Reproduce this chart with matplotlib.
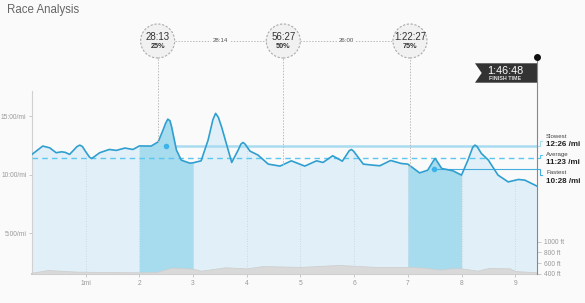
import numpy as np
import matplotlib
matplotlib.use("Agg")
from matplotlib import pyplot as plt
from matplotlib.patches import Ellipse, Polygon
import matplotlib.transforms as mtransforms
from matplotlib.ticker import FuncFormatter

plt.rcParams['font.family'] = ['Liberation Sans', 'DejaVu Sans']

# pace along the course: miles, minutes per mile
pace_miles = [0.0, 0.2, 0.33, 0.45, 0.55, 0.62, 0.7, 0.84, 0.89, 0.94, 0.98, 1.07, 1.11, 1.15, 1.26,
              1.44, 1.57, 1.73, 1.88, 2.0, 2.22, 2.35, 2.44, 2.49, 2.53, 2.57, 2.6, 2.69, 2.78, 2.94,
              3.0, 3.15, 3.28, 3.37, 3.42, 3.47, 3.53, 3.72, 3.84, 3.89, 3.93, 3.97, 4.06, 4.21, 4.4,
              4.62, 4.83, 5.08, 5.3, 5.42, 5.6, 5.78, 5.91, 5.95, 5.99, 6.17, 6.35, 6.48, 6.68, 6.88,
              7.0, 7.22, 7.37, 7.48, 7.51, 7.55, 7.63, 7.84, 8.0, 8.12, 8.21, 8.25, 8.29, 8.37, 8.5,
              8.68, 8.87, 9.06, 9.18, 9.406]
pace_min = [11.73, 12.44, 12.29, 11.87, 11.95, 11.9, 11.73, 12.4, 12.52, 12.4, 12.1, 11.5, 11.38, 11.5, 11.87,
            12.15, 12.07, 12.27, 12.15, 12.45, 12.44, 12.8, 13.8, 14.4, 14.74, 14.6, 14.09, 12.1, 11.24, 10.98,
            11.01, 11.18, 12.95, 14.7, 15.23, 14.9, 14.09, 11.04, 12.1, 12.6, 12.75, 12.6, 12.01, 11.67, 10.9,
            10.73, 11.18, 10.73, 11.18, 11.04, 11.61, 11.15, 12.05, 12.15, 12.0, 10.9, 10.81, 10.76, 11.21, 10.95,
            10.9, 10.15, 10.38, 11.2, 11.38, 11.1, 10.53, 10.33, 9.96, 11.24, 12.35, 12.52, 12.4, 11.81, 11.24,
            9.96, 9.38, 9.59, 9.53, 9.02]

# elevation profile: miles, feet
elev_miles = [0, 0.3, 0.85, 2.0, 2.3, 2.6, 3.0, 3.15, 3.6, 4.0, 4.3, 5.0, 5.7, 6.0, 6.4, 7.0, 7.3, 7.6,
              7.8, 8.0, 8.3, 8.5, 8.9, 9.0, 9.406]
elev_ft = [424, 474, 443, 431, 433, 517, 498, 461, 524, 505, 548, 531, 567, 554, 531, 531, 517, 480,
           505, 505, 461, 511, 505, 455, 431]

highlight_miles = [(2, 3), (7, 8)]
mile_ticks = [1, 2, 3, 4, 5, 6, 7, 8, 9]
mile_labels = ["1mi", "2", "3", "4", "5", "6", "7", "8", "9"]
pace_ticks = [5, 10, 15]
elev_ticks = [400, 600, 800, 1000]

split_names = ["Slowest", "Average", "Fastest"]
split_labels = ["12:26 /mi", "11:23 /mi", "10:28 /mi"]
split_pace = [12 + 26 / 60, 11 + 23 / 60, 10 + 28 / 60]
slowest_mile = 2.49
fastest_mile = 7.49

quarter_miles = [2.34, 4.68, 7.04]
quarter_times = ["28:13", "56:27", "1:22:27"]
quarter_pcts = ["25%", "50%", "75%"]
gap_times = ["28:14", "26:00"]

total_miles = 9.406
finish_time = "1:46:48"

W, H = 585, 303
PACE_LO, PACE_HI = 1.52, 17.14

fig = plt.figure(figsize=(W / 100, H / 100), dpi=100, facecolor='#fafafa')
ax = fig.add_axes([32 / W, 29 / H, 505 / W, 183 / H])
ax.set_facecolor('none')
ax.set_xlim(0, total_miles)
ax.set_ylim(PACE_LO, PACE_HI)

x = np.array(pace_miles)
y = np.array(pace_min)

ax.fill_between(x, PACE_LO, y, color='#e1f0f8', lw=0, zorder=1)
for a, b in highlight_miles:
    m = (x >= a) & (x <= b)
    ax.fill_between(x[m], PACE_LO, y[m], color='#a7dbee', lw=0, zorder=1.5)

for mt in mile_ticks:
    ax.plot([mt, mt], [PACE_LO, np.interp(mt, x, y)], color='#c3d3da', lw=0.6,
            ls=(0, (1, 2)), zorder=2)

ax.axhline(split_pace[1], color='#5cc6ee', lw=1, ls=(0, (4, 3)), zorder=3)
ax.plot([slowest_mile, total_miles], [split_pace[0]] * 2, color='#a9dcf0', lw=1.8, zorder=3)
ax.plot([fastest_mile, total_miles], [split_pace[2]] * 2, color='#46ade0', lw=0.8, zorder=3)
ax.plot(x, y, color='#2f9fd0', lw=1.2, zorder=4, solid_joinstyle='round')
ax.plot([slowest_mile, fastest_mile], [split_pace[0], split_pace[2]], 'o', color='#3cb4ea',
        ms=4, mec='none', zorder=5)

for s in ['top', 'right']:
    ax.spines[s].set_visible(False)
ax.spines['left'].set_color('#d0d0d0')
ax.spines['bottom'].set_color('#cccccc')
ax.spines['bottom'].set_linewidth(1.5)
ax.set_xticks(mile_ticks)
ax.set_xticklabels(mile_labels)
ax.set_yticks(pace_ticks)
ax.yaxis.set_major_formatter(FuncFormatter(lambda v, p: '%d:00/mi' % v))
ax.tick_params(axis='both', colors='#c0c0c0', labelcolor='#999999', labelsize=4.8,
               length=2, width=0.6, pad=2)

# elevation on a twin axis
ax2 = ax.twinx()
ax2.set_ylim(400, 400 + 183 / 32.3 * 600)
ax2.fill_between(elev_miles, 400, elev_ft, color='#d9d9d9', lw=0.6, edgecolor='#cfcfcf')
for s in ax2.spines.values():
    s.set_visible(False)
ax2.set_yticks(elev_ticks)
ax2.set_yticklabels(['%d ft' % v for v in elev_ticks])
ax2.tick_params(axis='y', colors='#c0c0c0', labelcolor='#999999', labelsize=4.8,
                length=3, width=0.6, pad=2)

# split labels on the right
px_pace = 5 / 58.5
bx0 = total_miles
bx1 = total_miles + 3 / 53.66
bx2 = total_miles + 5 / 53.66
tx = total_miles + 9 / 53.66
bracket_dy = [-5, -3.5, 6]
bracket_col = ['#a9dcf0', '#5cc6ee', '#46ade0']
name_dy = [-10, -4.3, 3.7]
val_dy = [-1.7, 3.7, 12]
for i in range(3):
    v = split_pace[i]
    v2 = v - bracket_dy[i] * px_pace
    ax.plot([bx0, bx1, bx1, bx2], [v, v, v2, v2], color=bracket_col[i], lw=0.8,
            clip_on=False, zorder=3)
    ax.text(tx, v - name_dy[i] * px_pace, split_names[i], fontsize=4.4, color='#444444',
            va='center', ha='left', clip_on=False)
    ax.text(tx, v - val_dy[i] * px_pace, split_labels[i], fontsize=5.8, color='#222222',
            fontweight='bold', va='center', ha='left', clip_on=False)

# quarter markers above the chart
blend = mtransforms.blended_transform_factory(ax.transData, fig.transFigure)
to_fig = fig.transFigure.inverted()
cy = 1 - 41 / H
r_fig = 17 / H
r_data = 17 / 53.66
for i, q in enumerate(quarter_miles):
    fig.add_artist(Ellipse((q, cy), 2 * r_data, 2 * r_fig, transform=blend, facecolor='#f1f1f1',
                           edgecolor='#aaaaaa', lw=0.8, ls=(0, (2, 1.5))))
    fig.text(q, cy + 3.5 / H, quarter_times[i], transform=blend,
             fontsize=7, color='#333333', ha='center', va='center')
    fig.text(q, cy - 5 / H, quarter_pcts[i], transform=blend, fontsize=5.2, color='#333333',
             fontweight='bold', ha='center', va='center')
    curve_fig = to_fig.transform(ax.transData.transform((q, np.interp(q, x, y))))[1]
    fig.add_artist(plt.Line2D([q, q], [curve_fig, cy - r_fig], transform=blend,
                              color='#bbbbbb', lw=0.7, ls=(0, (1.5, 1.5))))
for i in range(len(gap_times)):
    qa, qb = quarter_miles[i], quarter_miles[i + 1]
    fig.add_artist(plt.Line2D([qa + r_data, qb - r_data], [cy, cy], transform=blend,
                              color='#bbbbbb', lw=0.7, ls=(0, (1.5, 1.5))))
    fig.text((qa + qb) / 2, cy, gap_times[i], transform=blend, fontsize=4.4, color='#555555',
             ha='center', va='center',
             bbox=dict(facecolor='#fafafa', edgecolor='none', pad=1.5))

# finish flag
fin_top = 1 - 56.7 / H
fig.add_artist(plt.Line2D([total_miles, total_miles], [29 / H, fin_top], transform=blend,
                          color='#888888', lw=0.8))
fig.add_artist(plt.Line2D([total_miles], [fin_top], transform=blend, marker='o', ms=4,
                          color='#111111', lw=0))
fx = to_fig.transform(ax.transData.transform((total_miles, 0)))[0]
flag = [(fx, 1 - 63.3 / H), (fx - 62 / W, 1 - 63.3 / H), (fx - 55.3 / W, 1 - 73 / H),
        (fx - 62 / W, 1 - 82.7 / H), (fx, 1 - 82.7 / H)]
fig.add_artist(Polygon(flag, closed=True, transform=fig.transFigure, facecolor='#333333',
                       edgecolor='none'))
fig.text(fx - 31.5 / W, 1 - 70.5 / H, finish_time, fontsize=7.8, color='white', ha='center', va='center')
fig.text(fx - 31.5 / W, 1 - 78.3 / H, 'FINISH TIME', fontsize=3.9, color='#dddddd',
         fontweight='bold', ha='center', va='center')

fig.text(7 / W, 1 - 10 / H, 'Race Analysis', fontsize=8.3, color='#666666', ha='left', va='center')

fig.savefig('out.png', dpi=100, facecolor=fig.get_facecolor())
